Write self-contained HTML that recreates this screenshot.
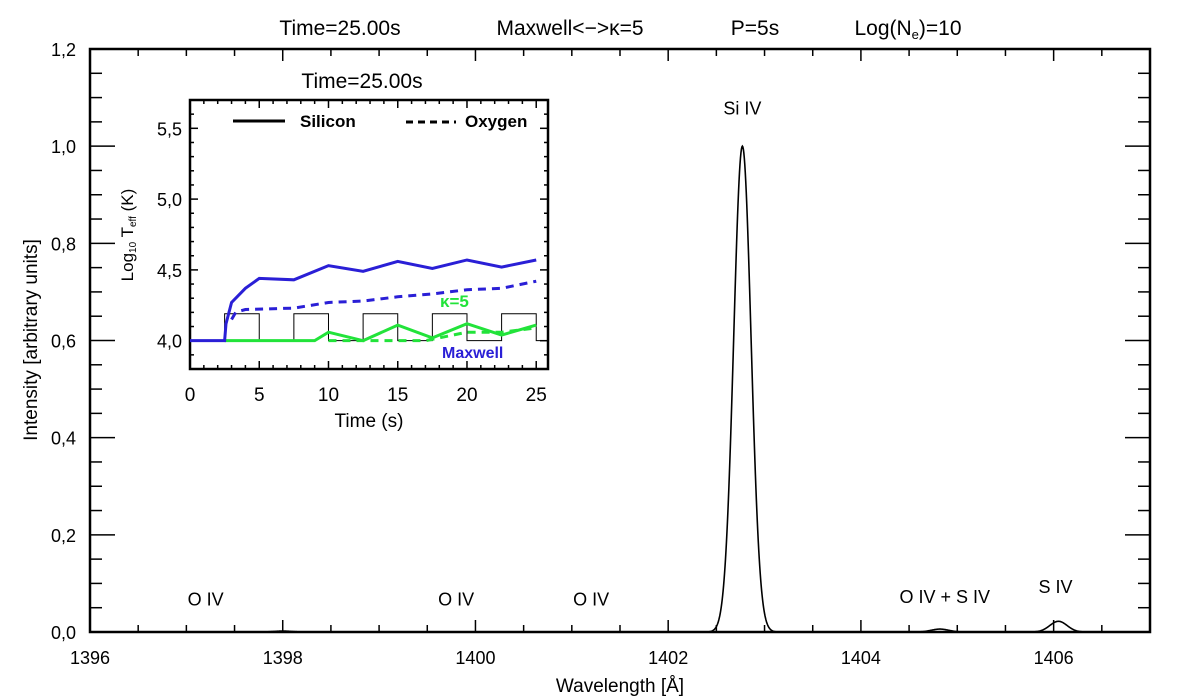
<!DOCTYPE html>
<html><head><meta charset="utf-8"><style>
body{margin:0;background:#fff;}
svg{display:block;font-family:"Liberation Sans",sans-serif;}
</style></head><body>
<svg id="c" width="1200" height="700" viewBox="0 0 1200 700"></svg>
<script>
// main spectrum data
const lineCenters=[1398.0,1402.77,1404.82,1406.05];
const linePeaks=[0.002,1.0,0.006,0.022];
const lineSigma=[0.09,0.09,0.09,0.09];
const mainXTicks=[1396,1398,1400,1402,1404,1406];
const mainYTicks=[0.0,0.2,0.4,0.6,0.8,1.0,1.2];
const lineLabels=["O IV","O IV","O IV","Si IV","O IV + S IV","S IV"];
const lineLabelX=[1397.2,1399.8,1401.2,1402.77,1404.87,1406.02];
const lineLabelY=[0.055,0.055,0.055,1.065,0.06,0.08];
// inset data
const insetTime=[0,2.5,2.6,3,4,5,7.5,10,12.5,15,17.5,20,22.5,25];
const siMax=[4.0,4.0,4.12,4.27,4.37,4.44,4.43,4.53,4.49,4.56,4.51,4.57,4.52,4.57];
const oxTime=[3,3.3,4,7.5,10,12.5,15,17.5,20,22.5,25];
const oxMax=[4.15,4.2,4.22,4.23,4.27,4.28,4.31,4.33,4.36,4.37,4.42];
const kTime=[2.5,9,10,12.5,15,17.5,20,22.5,25];
const siK=[4.0,4.0,4.06,4.0,4.11,4.02,4.12,4.04,4.11];
const okTime=[10,12.5,17,20,22.5,25];
const oxK=[4.0,4.0,4.0,4.06,4.06,4.09];
const pulseStarts=[2.5,7.5,12.5,17.5,22.5];
const pulseLow=4.0, pulseHigh=4.19, pulseWidth=2.5;
const insetXTicks=[0,5,10,15,20,25];
const insetYTicks=[4.0,4.5,5.0,5.5];

const NS="http://www.w3.org/2000/svg";
const svg=document.getElementById('c');
function el(t,a,p){const e=document.createElementNS(NS,t);for(const k in a)e.setAttribute(k,a[k]);(p||svg).appendChild(e);return e;}
function txt(s,x,y,a,p){const e=el('text',Object.assign({x:x,y:y},a),p);e.textContent=s;return e;}

// main axes
const L=90,R=1150,T=49,B=632,X0=1396,X1=1407,Y0=0,Y1=1.2;
const mx=v=>L+(v-X0)/(X1-X0)*(R-L);
const my=v=>B-(v-Y0)/(Y1-Y0)*(B-T);
let e=el('rect',{x:L,y:T,width:R-L,height:B-T,fill:'none',stroke:'#000','stroke-width':2.5});

const g=el('g',{stroke:'#000','stroke-width':1.5});

for(let v=X0;v<=X1+1e-6;v+=0.5){const maj=Math.abs(v/2-Math.round(v/2))<1e-6;const len=maj?12:7;const x=mx(v);
 el('line',{x1:x,y1:B,x2:x,y2:B-len},g);el('line',{x1:x,y1:T,x2:x,y2:T+len},g);}
for(let v=0;v<=1.2001;v+=0.05){const maj=Math.abs(v/0.2-Math.round(v/0.2))<1e-6;const len=maj?25:12;const y=my(v);
 el('line',{x1:L,y1:y,x2:L+len,y2:y},g);el('line',{x1:R,y1:y,x2:R-len,y2:y},g);}
mainXTicks.forEach(v=>{const t=txt(String(v),mx(v),664,{'font-size':18,'text-anchor':'middle'});});
mainYTicks.forEach(v=>{const t=txt(v.toFixed(1).replace('.',','),76,my(v)+7,{'font-size':18,'text-anchor':'end'});});
e=txt('Wavelength  [Å]',620,692,{'font-size':19,'text-anchor':'middle'});
e=txt('Intensity [arbitrary units]',0,0,{'font-size':19,'text-anchor':'middle',transform:'translate(37,340) rotate(-90)'});
// title
[['Time=25.00s',340],['Maxwell<−>κ=5',570],['P=5s',755]].forEach(a=>{const t=txt(a[0],a[1],35,{'font-size':21,'text-anchor':'middle'});});
e=el('text',{x:908,y:35,'font-size':21,'text-anchor':'middle'});e.innerHTML='Log(N<tspan font-size="13" dy="4">e</tspan><tspan dy="-4">)=10</tspan>';

// spectrum
let d='';const N=2200;
for(let i=0;i<=N;i++){const w=X0+(X1-X0)*i/N;let s=0;for(let k=0;k<lineCenters.length;k++){s+=linePeaks[k]*Math.exp(-0.5*Math.pow((w-lineCenters[k])/lineSigma[k],2));}
 d+=(i?'L':'M')+mx(w).toFixed(2)+','+my(s).toFixed(2);}
e=el('path',{d:d,fill:'none',stroke:'#000','stroke-width':1.6});
lineLabels.forEach((s,i)=>{const t=txt(s,mx(lineLabelX[i]),my(lineLabelY[i]),{'font-size':18,'text-anchor':'middle'});});

// inset
const iL=190,iR=548,iT=100,iB=369,ix0=0,ix1=25.85,iy0=3.8,iy1=5.7;
const ix=v=>iL+(v-ix0)/(ix1-ix0)*(iR-iL);
const iy=v=>iB-(v-iy0)/(iy1-iy0)*(iB-iT);
e=el('rect',{x:iL,y:iT,width:iR-iL,height:iB-iT,fill:'#fff',stroke:'#000','stroke-width':2.5});

const ig=el('g',{stroke:'#000','stroke-width':1.5});

for(let v=0;v<=25.01;v+=1){const len=(v%5===0)?8:4;const x=ix(v);el('line',{x1:x,y1:iB,x2:x,y2:iB-len},ig);el('line',{x1:x,y1:iT,x2:x,y2:iT+len},ig);}
for(let k=0;k<=19;k++){const v=3.8+k*0.1;const maj=Math.abs(v*2-Math.round(v*2))<1e-6;const len=maj?8:4;const y=iy(v);el('line',{x1:iL,y1:y,x2:iL+len,y2:y},ig);el('line',{x1:iR,y1:y,x2:iR-len,y2:y},ig);}
insetXTicks.forEach(v=>{const t=txt(String(v),ix(v),401,{'font-size':19,'text-anchor':'middle'});});
insetYTicks.forEach(v=>{const t=txt(v.toFixed(1).replace('.',','),182,iy(v)+7,{'font-size':18,'text-anchor':'end'});});
e=txt('Time (s)',369,427,{'font-size':19,'text-anchor':'middle'});
e=el('text',{'font-size':17,'text-anchor':'middle',transform:'translate(133,235) rotate(-90)'});e.innerHTML='Log<tspan font-size="10" dy="3">10</tspan><tspan dy="-3"> T</tspan><tspan font-size="10" dy="3">eff</tspan><tspan dy="-3"> (K)</tspan>';

e=txt('Time=25.00s',362,88,{'font-size':21,'text-anchor':'middle'});
// pulses
let pd='M'+ix(0)+','+iy(pulseLow);
pulseStarts.forEach(s=>{pd+='L'+ix(s)+','+iy(pulseLow)+'L'+ix(s)+','+iy(pulseHigh)+'L'+ix(s+pulseWidth)+','+iy(pulseHigh)+'L'+ix(s+pulseWidth)+','+iy(pulseLow);});
pd+='L'+ix(ix1)+','+iy(pulseLow);
e=el('path',{d:pd,fill:'none',stroke:'#000','stroke-width':1});
function series(xs,ys,col,dash,name){let s='';xs.forEach((x,i)=>{s+=(i?'L':'M')+ix(x).toFixed(2)+','+iy(ys[i]).toFixed(2);});
 const p=el('path',{d:s,fill:'none',stroke:col,'stroke-width':3,'stroke-dasharray':dash||'none'});}
series(okTime,oxK,'#22e33a','8,6','oxygen-kappa-line');
series(kTime,siK,'#22e33a',null,'silicon-kappa-line');
series(oxTime,oxMax,'#2a1fd6','8,6','oxygen-maxwell-line');
series(insetTime,siMax,'#2a1fd6',null,'silicon-maxwell-line');
// legend
e=el('line',{x1:233,y1:121,x2:285,y2:121,stroke:'#000','stroke-width':3});
e=txt('Silicon',300,127,{'font-size':17,'font-weight':'bold'});
e=el('line',{x1:406,y1:122,x2:456,y2:122,stroke:'#000','stroke-width':3,'stroke-dasharray':'7,5'});
e=txt('Oxygen',465,127,{'font-size':17,'font-weight':'bold'});
e=txt('κ=5',440,307,{'font-size':17,'font-weight':'bold',fill:'#22e33a'});
e=txt('Maxwell',442,358,{'font-size':16,'font-weight':'bold',fill:'#2a1fd6'});
</script>
</body></html>
